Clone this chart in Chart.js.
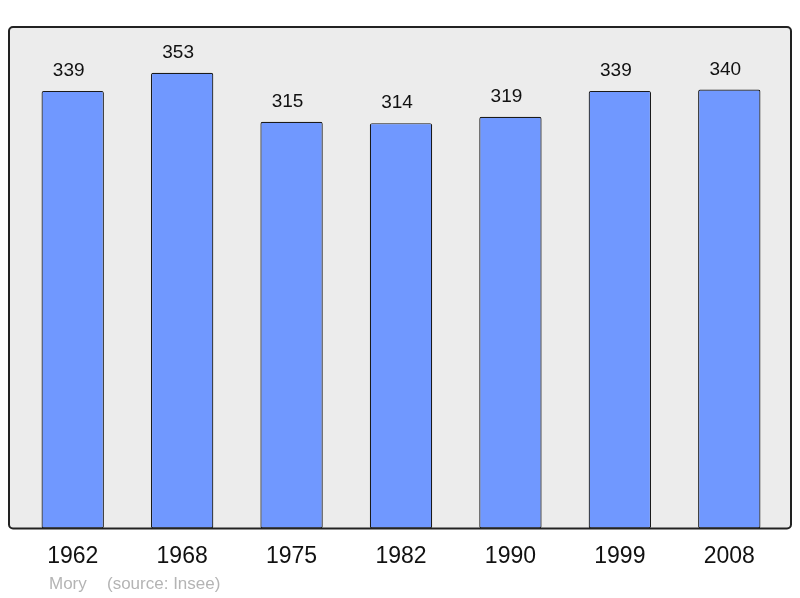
<!DOCTYPE html>
<html>

<head>
    <title>Mory population</title>
    <script src="https://cdn.jsdelivr.net/npm/chart.js"></script>
    <style type="text/css">
        body {
            margin: 0;
            background: #ffffff;
        }
    </style>
</head>

<body>
    <canvas id="myChart" width="800" height="598"></canvas>

    <script>
        const years = ['1962', '1968', '1975', '1982', '1990', '1999', '2008'];
        const population = [339, 353, 315, 314, 319, 339, 340];
        const yMax = 388.5;
        const footerText = ['Mory', '(source: Insee)'];

        // grey frame behind the bars, its outline on top
        const framePlugin = {
            id: 'frame',
            beforeDatasetsDraw(chart) {
                const a = chart.chartArea;
                const ctx = chart.ctx;
                ctx.save();
                ctx.beginPath();
                ctx.roundRect(a.left - 9, a.top, a.right - a.left + 16, a.bottom - a.top, 4);
                ctx.fillStyle = '#ececec';
                ctx.fill();
                ctx.restore();
            },
            afterDatasetsDraw(chart) {
                const a = chart.chartArea;
                const ctx = chart.ctx;
                const x = chart.scales.x;
                const y = chart.scales.y;
                ctx.save();
                ctx.beginPath();
                ctx.roundRect(a.left - 9, a.top, a.right - a.left + 16, a.bottom - a.top, 4);
                ctx.lineWidth = 2;
                ctx.strokeStyle = '#222222';
                ctx.stroke();

                // value labels above the bars (sit a little left of centre)
                ctx.fillStyle = '#111111';
                ctx.font = '19px "Liberation Sans", Arial, sans-serif';
                ctx.textAlign = 'center';
                ctx.textBaseline = 'alphabetic';
                population.forEach(function (v, i) {
                    ctx.fillText(String(v), x.getPixelForValue(i) - 4, y.getPixelForValue(v) - 15);
                });

                // source line
                ctx.fillStyle = '#b4b4b4';
                ctx.font = '17px "Liberation Sans", Arial, sans-serif';
                ctx.textAlign = 'left';
                ctx.textBaseline = 'middle';
                ctx.fillText(footerText[0], a.left + 31, 584);
                ctx.fillText(footerText[1], a.left + 89, 584);
                ctx.restore();
            }
        };

        var ctx = document.getElementById('myChart').getContext('2d');
        var myChart = new Chart(ctx, {
            type: 'bar',
            data: {
                labels: years,
                datasets: [{
                    data: population,
                    backgroundColor: '#7098ff',
                    borderColor: '#1a1a1a',
                    borderWidth: 1.2,
                    borderRadius: 2,
                    borderSkipped: false,
                    categoryPercentage: 1,
                    barPercentage: 0.57
                }]
            },
            options: {
                responsive: false,
                animation: false,
                layout: {
                    padding: { left: 18, right: 16, top: 27, bottom: 14 }
                },
                plugins: {
                    legend: { display: false },
                    tooltip: { enabled: false }
                },
                scales: {
                    x: {
                        grid: { display: false, drawTicks: false },
                        border: { display: false },
                        ticks: {
                            color: '#111111',
                            padding: 14,
                            font: { family: '"Liberation Sans", Arial, sans-serif', size: 23 }
                        }
                    },
                    y: {
                        display: false,
                        min: 0,
                        max: yMax
                    }
                }
            },
            plugins: [framePlugin]
        });
    </script>
</body>

</html>
